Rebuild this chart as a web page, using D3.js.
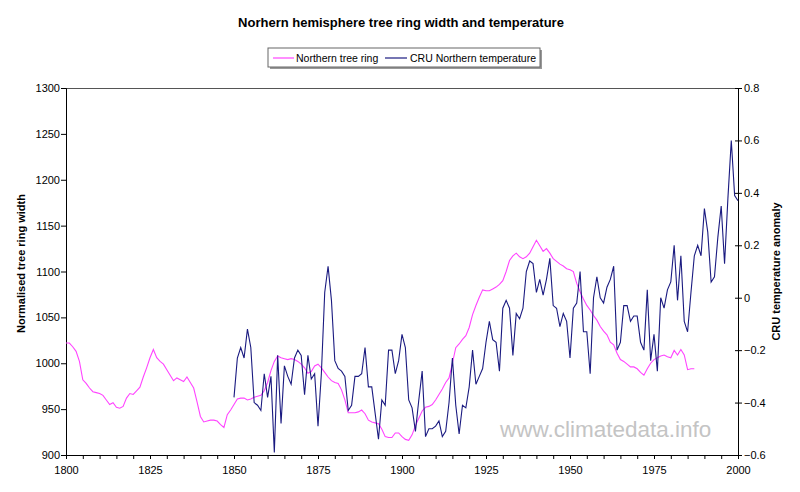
<!DOCTYPE html>
<html>
<head>
<meta charset="utf-8">
<script src="https://cdn.jsdelivr.net/npm/d3@7"></script>
<style>
body { margin: 0; background: #fff; }
svg { font-family: "Liberation Sans", Arial, sans-serif; }
</style>
</head>
<body>
<div id="chart"></div>
<script>
// tree ring width, one value per year starting 1800
var ringStart = 1800;
var ringValues = [
  1022, 1022, 1018, 1013, 1002, 982, 978, 973, 969, 968,
  967, 965, 960, 955, 957, 952, 951, 953, 962, 967,
  966, 970, 974, 985, 995, 1006, 1015, 1006, 1002, 999,
  993, 987, 981, 984, 982, 980, 985, 979, 973, 958,
  942, 936, 937, 938, 938, 937, 933, 930, 944, 949,
  955, 961, 962, 962, 960, 961, 963, 964, 965, 970,
  979, 992, 1002, 1008, 1006, 1005, 1004, 1005, 1004, 1002,
  999, 995, 989, 991, 997, 999, 995, 990, 985, 981,
  979, 978, 971, 960, 946, 946, 946, 947, 949, 945,
  938, 936, 935, 934, 928, 920, 919, 919, 924, 924,
  920, 917, 916, 922, 932, 940, 948, 952, 953, 955,
  960, 966, 972, 979, 984, 1000, 1017, 1021, 1026, 1030,
  1039, 1053, 1063, 1072, 1080, 1079, 1079, 1081, 1083, 1086,
  1090, 1100, 1112, 1117, 1120, 1116, 1114, 1116, 1120, 1127,
  1134, 1128, 1122, 1125, 1120, 1114, 1111, 1108, 1106, 1103,
  1102, 1100, 1087, 1078, 1070, 1063, 1058, 1052, 1047, 1040,
  1035, 1031, 1023, 1020, 1011, 1004, 1002, 999, 996, 996,
  994, 990, 987, 994, 1000, 1004, 1006, 1008, 1009, 1007,
  1006, 1014, 1009, 1015, 1009, 993, 994, 994
];

// CRU northern temperature anomaly, one value per year starting 1850
var tempStart = 1850;
var tempValues = [
  -0.38, -0.23, -0.19, -0.23, -0.12, -0.19, -0.40, -0.41, -0.43, -0.29,
  -0.38, -0.30, -0.59, -0.22, -0.48, -0.26, -0.30, -0.33, -0.23, -0.20,
  -0.22, -0.37, -0.22, -0.31, -0.29, -0.49, -0.29, 0.02, 0.12, -0.01,
  -0.24, -0.27, -0.28, -0.30, -0.43, -0.41, -0.30, -0.30, -0.29, -0.19,
  -0.34, -0.34, -0.44, -0.54, -0.39, -0.41, -0.20, -0.20, -0.29, -0.24,
  -0.14, -0.19, -0.39, -0.42, -0.51, -0.39, -0.28, -0.53, -0.50, -0.50,
  -0.49, -0.47, -0.53, -0.51, -0.40, -0.23, -0.41, -0.52, -0.41, -0.42,
  -0.34, -0.20, -0.33, -0.30, -0.27, -0.17, -0.09, -0.16, -0.17, -0.28,
  -0.04, -0.01, -0.04, -0.22, -0.06, -0.08, -0.04, 0.10, 0.14, 0.13,
  0.02, 0.07, 0.01, 0.07, 0.15, -0.03, -0.04, -0.11, -0.06, -0.09,
  -0.23, -0.04, -0.02, 0.10, -0.13, -0.13, -0.29, 0.00, 0.08, 0.00,
  -0.02, 0.04, 0.07, 0.12, -0.20, -0.17, -0.03, -0.03, -0.09, -0.07,
  -0.07, -0.17, -0.20, 0.03, -0.24, -0.14, -0.28, 0.00, -0.04, 0.03,
  0.06, 0.20, -0.01, 0.16, -0.09, -0.13, 0.02, 0.16, 0.20, 0.16,
  0.34, 0.25, 0.06, 0.08, 0.23, 0.35, 0.13, 0.38, 0.60, 0.39,
  0.37
];

var xTicks = [1800, 1825, 1850, 1875, 1900, 1925, 1950, 1975, 2000];
var leftTicks = [900, 950, 1000, 1050, 1100, 1150, 1200, 1250, 1300];
var rightTicks = [-0.6, -0.4, -0.2, 0, 0.2, 0.4, 0.6, 0.8];

var width = 800, height = 492;
var plot = {left: 66, right: 738, top: 88, bottom: 455};

var svg = d3.select("#chart").append("svg")
    .attr("width", width)
    .attr("height", height);

var x = d3.scaleLinear().domain([1800, 2000]).range([plot.left, plot.right]);
var yL = d3.scaleLinear().domain([900, 1300]).range([plot.bottom, plot.top]);
var yR = d3.scaleLinear().domain([-0.6, 0.8]).range([plot.bottom, plot.top]);

var ring = ringValues.map(function(v, i) { return {year: ringStart + i, v: v}; });
var temp = tempValues.map(function(v, i) { return {year: tempStart + i, v: v}; });

// title
svg.append("text")
    .attr("x", 401).attr("y", 27)
    .attr("text-anchor", "middle")
    .style("font-size", "13px").style("font-weight", "bold")
    .text("Norhern hemisphere tree ring width and temperature");

// legend
var lg = svg.append("g");
lg.append("rect").attr("x", 270).attr("y", 50).attr("width", 272).attr("height", 19)
    .attr("fill", "#999");
lg.append("rect").attr("x", 268).attr("y", 48).attr("width", 272).attr("height", 19)
    .attr("fill", "#fff").attr("stroke", "#666").attr("stroke-width", 1);
lg.append("line").attr("x1", 273).attr("x2", 294).attr("y1", 58).attr("y2", 58)
    .attr("stroke", "#ff44ff").attr("stroke-width", 1.2);
lg.append("text").attr("x", 296).attr("y", 62).style("font-size", "10.5px")
    .text("Northern tree ring");
lg.append("line").attr("x1", 385).attr("x2", 407).attr("y1", 58).attr("y2", 58)
    .attr("stroke", "#1a1a80").attr("stroke-width", 1.2);
lg.append("text").attr("x", 410).attr("y", 62).style("font-size", "10.5px")
    .text("CRU Northern temperature");

// watermark
svg.append("text")
    .attr("x", 500).attr("y", 437)
    .style("font-size", "22.5px").style("fill", "#c4c4c4")
    .text("www.climatedata.info");

// plot top border
svg.append("line")
    .attr("x1", plot.left).attr("x2", plot.right)
    .attr("y1", plot.top + 0.5).attr("y2", plot.top + 0.5)
    .attr("stroke", "#555").attr("stroke-width", 1);

// axes
var xAxis = d3.axisBottom(x)
    .tickValues(d3.range(1800, 2001, 5))
    .tickSize(4)
    .tickFormat(function(d) { return xTicks.indexOf(d) >= 0 ? d : ""; });
var gx = svg.append("g").attr("transform", "translate(0," + plot.bottom + ")").call(xAxis);

var gl = svg.append("g").attr("transform", "translate(" + plot.left + ",0)")
    .call(d3.axisLeft(yL).tickValues(leftTicks).tickSize(5).tickFormat(d3.format("d")));

var gr = svg.append("g").attr("transform", "translate(" + plot.right + ",0)")
    .call(d3.axisRight(yR).tickValues(rightTicks).tickSize(4)
        .tickFormat(function(d) { return d === 0 ? "0" : d3.format(".1f")(d); }));
gr.selectAll(".tick line").attr("x1", -3);

[gx, gl, gr].forEach(function(g) {
    g.select(".domain").attr("stroke", "#000");
    g.selectAll(".tick line").attr("stroke", "#000");
    g.selectAll(".tick text")
        .style("font-size", "11px")
        .style("font-family", "'Liberation Sans', Arial, sans-serif")
        .attr("fill", "#000");
});
gx.selectAll(".tick text").attr("dy", "1.05em");
gl.selectAll(".tick text").attr("x", -6);
gr.selectAll(".tick text").attr("x", 6);

// axis titles
svg.append("text")
    .attr("transform", "translate(25," + ((plot.top + plot.bottom) / 2 - 8) + ") rotate(-90)")
    .attr("text-anchor", "middle")
    .style("font-size", "11px").style("font-weight", "bold")
    .text("Normalised tree ring width");
svg.append("text")
    .attr("transform", "translate(780," + ((plot.top + plot.bottom) / 2) + ") rotate(-90)")
    .attr("text-anchor", "middle")
    .style("font-size", "11px").style("font-weight", "bold")
    .text("CRU temperature anomaly");

// series
var lineL = d3.line().x(function(d) { return x(d.year); }).y(function(d) { return yL(d.v); });
var lineR = d3.line().x(function(d) { return x(d.year); }).y(function(d) { return yR(d.v); });

svg.append("path").datum(ring)
    .attr("d", lineL)
    .attr("fill", "none")
    .attr("stroke", "#ff44ff")
    .attr("stroke-width", 1.1);

svg.append("path").datum(temp)
    .attr("d", lineR)
    .attr("fill", "none")
    .attr("stroke", "#1a1a80")
    .attr("stroke-width", 1.1);
</script>
</body>
</html>
